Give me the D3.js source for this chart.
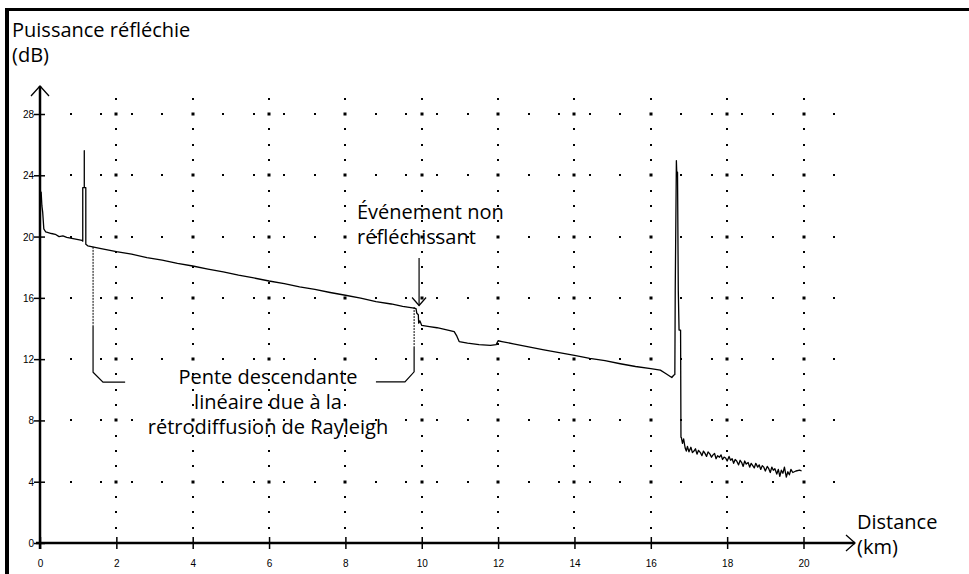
<!DOCTYPE html>
<html><head><meta charset="utf-8">
<script src="https://cdn.jsdelivr.net/npm/d3@7"></script>
<style>
html,body{margin:0;padding:0;background:#fff;}
svg{display:block;}
</style></head>
<body>
<svg id="c" width="969" height="574"></svg>
<script>
// ---- data ----
const xTicks = [0,2,4,6,8,10,12,14,16,18,20];
const yTicks = [0,4,8,12,16,20,24,28];
const traceKm = [0,0.03,0.05,0.07,0.1,0.15,0.3,0.4,0.5,0.6,0.7,0.8,0.9,1.0,1.1,1.12,1.12,1.16,1.16,1.16,1.2,1.2,
  1.25,1.6,2.0,2.4,2.8,3.2,3.6,4.0,4.4,4.8,5.2,5.6,6.0,6.4,6.8,7.2,7.6,8.0,8.4,8.8,9.2,9.5,9.8,9.85,9.87,9.91,9.92,9.95,10.0,
  10.2,10.4,10.6,10.85,10.92,10.98,11.2,11.5,11.8,11.95,12.0,12.1,12.4,12.8,13.2,13.6,14.0,14.4,14.8,15.2,15.6,16.0,16.25,16.4,16.55,16.6,16.63,
  16.64,16.67,16.68,16.7,16.72,16.74,16.78,16.79,
  16.8,16.83,16.86,16.9,16.93,16.96,17.0,17.05,17.09,17.13,17.17,17.21,17.25,17.3,17.34,17.38,17.42,17.46,17.5,17.55,17.59,17.63,17.67,17.71,17.75,17.8,
  17.84,17.88,17.92,17.96,18.0,18.05,18.09,18.13,18.17,18.21,18.25,18.3,18.34,18.38,18.42,18.46,18.5,18.55,18.59,18.63,18.67,18.71,18.75,18.8,
  18.84,18.88,18.92,18.96,19.0,19.05,19.09,19.13,19.17,19.21,19.25,19.3,19.34,19.38,19.42,19.46,19.5,19.55,19.59,19.63,19.67,19.72,19.8,19.9,19.95];
const traceDb = [22.9,22.9,22.0,21.6,20.5,20.3,20.2,20.15,20.0,20.05,19.95,19.9,19.85,19.8,19.75,19.7,23.2,23.2,25.6,23.2,23.2,19.5,
  19.4,19.22,19.02,18.85,18.62,18.46,18.25,18.08,17.88,17.7,17.48,17.3,17.1,16.93,16.72,16.55,16.35,16.17,15.98,15.76,15.6,15.45,15.33,15.3,15.0,14.9,14.35,14.5,14.2,
  14.12,14.05,13.95,13.8,13.5,13.15,13.05,12.95,12.9,12.95,13.2,13.15,13.0,12.8,12.6,12.42,12.25,12.05,11.9,11.7,11.52,11.38,11.28,11.05,10.8,10.95,11.0,
  16.5,24.95,24.2,24.2,16.5,13.9,13.9,6.9,
  6.9,6.5,6.8,6.2,6.0,6.3,5.95,6.25,5.9,6.0,6.15,5.8,6.05,5.9,5.7,6.0,5.85,5.65,5.95,5.8,5.6,5.75,5.85,5.5,5.7,5.6,
  5.75,5.45,5.6,5.55,5.35,5.65,5.4,5.5,5.2,5.45,5.35,5.1,5.4,5.25,5.0,5.35,5.15,5.25,4.95,5.2,5.05,4.9,5.2,4.95,
  5.1,4.8,5.05,4.95,4.7,5.0,4.85,4.6,4.95,4.75,4.85,4.5,4.8,4.35,4.75,4.55,4.95,4.3,4.65,4.45,4.8,4.6,4.7,4.75,4.7];
const gridVKm = [2,4,6,8,10,12,14,16,18,20];
const gridHDb = [4,8,12,16,20,24,28];
const yLabel = ["Puissance réfléchie","(dB)"];
const xLabel = ["Distance","(km)"];
const eventLabel = ["Événement non","réfléchissant"];
const slopeLabel = ["Pente descendante","linéaire due à la","rétrodiffusion de Rayleigh"];
// annotation anchors in data units
const bracketLeft = {km:1.39, dbTop:19.33, dbDot:14.2, dbSolid:11.15, kmCorner:1.65, dbCorner:10.5, kmEnd:2.23};
const bracketRight = {km:9.8, dbTop:15.4, dbDot:12.8, dbSolid:11.17, kmCorner:9.56, dbCorner:10.52, kmEnd:8.8};
const arrowEvent = {km:9.93, dbFrom:18.6, dbTo:15.5};

// ---- drawing ----
const svg = d3.select("#c");
const x = d3.scaleLinear().domain([0,20]).range([40,803.5]);
const y = d3.scaleLinear().domain([0,28]).range([543,114]);
const FONT = "'Open Sans', sans-serif";

// frame (top & left)
svg.append("line").attr("x1",5).attr("x2",969).attr("y1",9.5).attr("y2",9.5).attr("stroke","#000").attr("stroke-width",3);
svg.append("line").attr("x1",7).attr("x2",7).attr("y1",8).attr("y2",574).attr("stroke","#000").attr("stroke-width",4);

// grid dots
const g = svg.append("g");
const dots = [];
gridVKm.forEach(k=>{ d3.range(1,30).forEach(v=>{ dots.push({k, v, big: gridHDb.includes(v)}); }); });
gridHDb.forEach(v=>{ d3.range(1,27).forEach(i=>{ const k = +(i*0.8).toFixed(2); if(!gridVKm.includes(k)) dots.push({k, v, big:false}); }); });
g.selectAll("rect.dot").data(dots).join("rect").attr("class","dot")
  .attr("x",d=>Math.round(x(d.k))-(d.big?1.5:1)).attr("y",d=>Math.round(y(d.v))-(d.big?1.5:1))
  .attr("width",d=>d.big?3:2).attr("height",d=>d.big?3:2).attr("fill","#000");

// axes
const xAxis = d3.axisBottom(x).tickValues(xTicks).tickSize(0).tickFormat(d3.format("d"));
const yAxis = d3.axisLeft(y).tickValues(yTicks).tickSize(0).tickFormat(d3.format("d"));
const gx = svg.append("g").attr("transform",`translate(0,${y(0)})`).call(xAxis);
const gy = svg.append("g").attr("transform",`translate(${x(0)},0)`).call(yAxis);
gx.select(".domain").remove(); gy.select(".domain").remove();
gx.selectAll(".tick text").attr("y",24).attr("dy",0).attr("font-family","'Liberation Sans',Arial,sans-serif").attr("font-size",10).attr("fill","#000");
gy.selectAll(".tick text").attr("x",-6).attr("dy","0.35em").attr("font-family","'Liberation Sans',Arial,sans-serif").attr("font-size",10).attr("fill","#000");
gx.selectAll(".tick").append("line").attr("y1",-6).attr("y2",6).attr("stroke","#000").attr("stroke-width",1.5);
gy.selectAll(".tick").append("line").attr("x1",-6).attr("x2",5).attr("stroke","#000").attr("stroke-width",1.5);

// axis lines with open arrowheads
svg.append("line").attr("x1",x(0)).attr("x2",x(0)).attr("y1",y(0)+6).attr("y2",86).attr("stroke","#000").attr("stroke-width",2.5);
svg.append("path").attr("d",`M${x(0)-9},96 L${x(0)},86 L${x(0)+9},96`).attr("fill","none").attr("stroke","#000").attr("stroke-width",1.3);
svg.append("line").attr("x1",x(0)-4).attr("x2",855).attr("y1",y(0)).attr("y2",y(0)).attr("stroke","#000").attr("stroke-width",2.5);
svg.append("path").attr("d",`M846,${y(0)-8} L855,${y(0)} L846,${y(0)+8}`).attr("fill","none").attr("stroke","#000").attr("stroke-width",1.3);

// trace
const pts = traceKm.map((k,i)=>[k,traceDb[i]]);
svg.append("path").datum(pts)
  .attr("d",d3.line().x(d=>x(d[0])).y(d=>y(d[1])))
  .attr("fill","none").attr("stroke","#000").attr("stroke-width",1.3).attr("stroke-linejoin","round");

// brackets
function bracket(b){
  svg.append("line").attr("x1",x(b.km)).attr("x2",x(b.km)).attr("y1",y(b.dbTop)).attr("y2",y(b.dbDot))
    .attr("stroke","#000").attr("stroke-width",1).attr("stroke-dasharray","2,1");
  svg.append("path").attr("d",`M${x(b.km)},${y(b.dbDot)} L${x(b.km)},${y(b.dbSolid)} L${x(b.kmCorner)},${y(b.dbCorner)} L${x(b.kmEnd)},${y(b.dbCorner)}`)
    .attr("fill","none").attr("stroke","#000").attr("stroke-width",1.2);
}
bracket(bracketLeft); bracket(bracketRight);

// event arrow
const ax = x(arrowEvent.km), ay0 = y(arrowEvent.dbFrom), ay1 = y(arrowEvent.dbTo);
svg.append("line").attr("x1",ax).attr("x2",ax).attr("y1",ay0).attr("y2",ay1).attr("stroke","#000").attr("stroke-width",1.2);
svg.append("path").attr("d",`M${ax-7},${ay1-8} L${ax},${ay1} L${ax+7},${ay1-8}`).attr("fill","none").attr("stroke","#000").attr("stroke-width",1.2);

// texts
function lines(arr, xx, y0, dy, anchor, size){
  const t = svg.append("text").attr("font-family",FONT).attr("font-size",size).attr("fill","#000").attr("text-anchor",anchor);
  arr.forEach((s,i)=>t.append("tspan").attr("x",xx).attr("y",y0+i*dy).text(s));
}
lines(yLabel, 12, 37, 25, "start", 20);
lines(xLabel, 857, 529, 25, "start", 20);
lines(eventLabel, 357, 219, 24.5, "start", 20);
lines(slopeLabel, 268, 384, 25, "middle", 20);
</script>
</body></html>
